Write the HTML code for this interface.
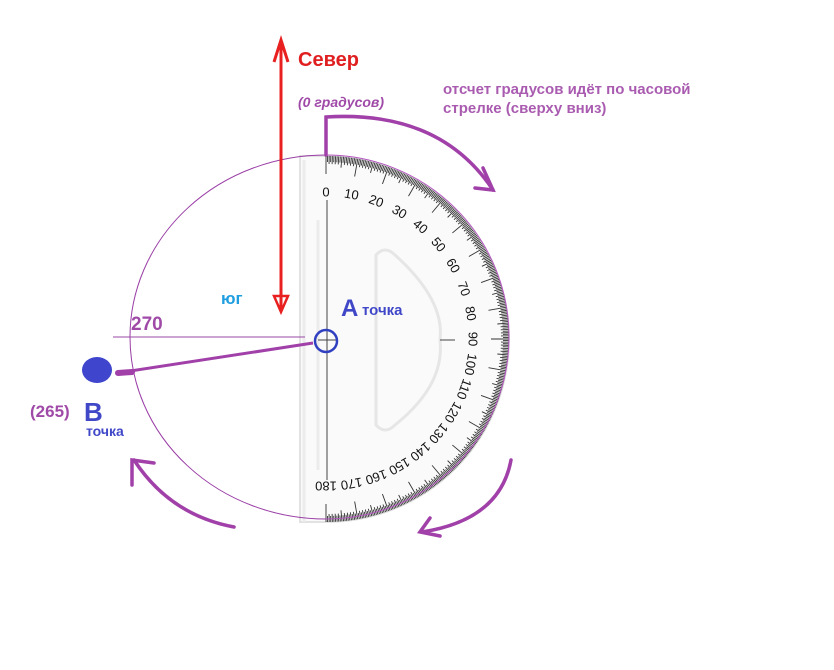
<!DOCTYPE html>
<html><head><meta charset="utf-8"><style>
html,body{margin:0;padding:0;background:#fff;width:834px;height:670px;overflow:hidden}
svg{display:block}
text{font-family:"Liberation Sans",sans-serif}
</style></head><body>
<svg id="s" width="834" height="670" viewBox="0 0 834 670" xmlns="http://www.w3.org/2000/svg">
<!-- protractor body -->
<path d="M300 156 L326 156 A183 183 0 0 1 326 522 L300 522 Z" fill="#fafafa" stroke="#e2e2e2" stroke-width="2"/>
<path d="M304 160 L304 522 M318 220 L318 470" stroke="#ececec" stroke-width="3" fill="none"/>
<path d="M376 255 Q385 245 395 255 Q445 300 440 340 Q445 385 395 425 Q385 435 376 425 Z" fill="none" stroke="#e6e6e6" stroke-width="3"/>
<line x1="327" y1="200" x2="327" y2="480" stroke="#444" stroke-width="1"/>
<line x1="318" y1="340" x2="337" y2="340" stroke="#444" stroke-width="1"/>
<line x1="440" y1="340" x2="455" y2="340" stroke="#444" stroke-width="1"/>
<g id="ticks"></g>
<path d="M326 155 A196 182 0 0 0 326 519" fill="none" stroke="#9a3ea6" stroke-width="1"/>
<path d="M326 155 A183 182 0 0 1 326 519" fill="none" stroke="#b455c0" stroke-width="1"/>
<line x1="113" y1="337" x2="305" y2="337" stroke="#9a4aa6" stroke-width="1"/>
<text x="131" y="330" font-size="19" font-weight="bold" fill="#a04aa8">270</text>
<line x1="124" y1="372" x2="313" y2="343" stroke="#a040a8" stroke-width="3"/>
<line x1="118" y1="373" x2="132" y2="372" stroke="#a040a8" stroke-width="6" stroke-linecap="round"/>
<ellipse cx="97" cy="370" rx="15" ry="13" fill="#3f45cc"/>
<circle cx="326" cy="341" r="11" fill="none" stroke="#3040c0" stroke-width="2.5"/>
<line x1="281" y1="42" x2="281" y2="310" stroke="#e82020" stroke-width="3"/>
<path d="M274 62 L281 40 L288 62" fill="none" stroke="#e82020" stroke-width="3"/>
<path d="M274 296 L281 312 L288 296 Z" fill="none" stroke="#e82020" stroke-width="2.5"/>
<text x="298" y="66" font-size="20" font-weight="bold" fill="#e02020">Север</text>
<text x="298" y="107" font-size="14" font-style="italic" font-weight="bold" fill="#a04aa8">(0 градусов)</text>
<text x="443" y="94" font-size="15" font-weight="bold" fill="#a04aa8" opacity="0.9">отсчет градусов идёт по часовой</text>
<text x="443" y="113" font-size="15" font-weight="bold" fill="#a04aa8" opacity="0.9">стрелке (сверху вниз)</text>
<text x="221" y="304" font-size="17" font-weight="bold" fill="#1f9ee0">юг</text>
<text x="341" y="316" font-size="24" font-weight="bold" fill="#4048c8">A</text>
<text x="362" y="315" font-size="15" font-weight="bold" fill="#4048c8">точка</text>
<text x="30" y="417" font-size="17" font-weight="bold" fill="#a04aa8">(265)</text>
<text x="84" y="421" font-size="26" font-weight="bold" fill="#4048c8">B</text>
<text x="86" y="436" font-size="14" font-weight="bold" fill="#4048c8">точка</text>
<g stroke="#a040a8" stroke-width="3.5" fill="none" stroke-linecap="round">
<path d="M326 155 L326 117 Q440 110 493 190"/>
<path d="M483 168 L493 190 L475 188"/>
<path d="M511 460 Q500 520 422 532"/>
<path d="M430 518 L420 532 L440 536"/>
<path d="M234 527 Q170 515 134 460"/>
<path d="M132 485 L132 460 L154 463"/>
</g>
</svg>
<script>
var g=document.getElementById('ticks'),cx=326,cy=339,R=183,h='';
for(var k=0;k<=360;k++){var d=k/2,t=d*Math.PI/180,s=Math.sin(t),c=-Math.cos(t);
var L=d%10==0?18:(d%5==0?11:(k%2==0?8:6));
h+='<line x1="'+(cx+R*s)+'" y1="'+(cy+R*c)+'" x2="'+(cx+(R-L)*s)+'" y2="'+(cy+(R-L)*c)+'" stroke="#333" stroke-width="0.9"/>';
if(k%2==0&&d%10==0){var r=147,x=cx+r*s,y=cy+r*c;
h+='<text x="'+x+'" y="'+y+'" font-size="13" fill="#111" text-anchor="middle" dominant-baseline="central" transform="rotate('+d+' '+x+' '+y+')">'+d+'</text>';}}
g.innerHTML=h;
</script>
</body></html>
